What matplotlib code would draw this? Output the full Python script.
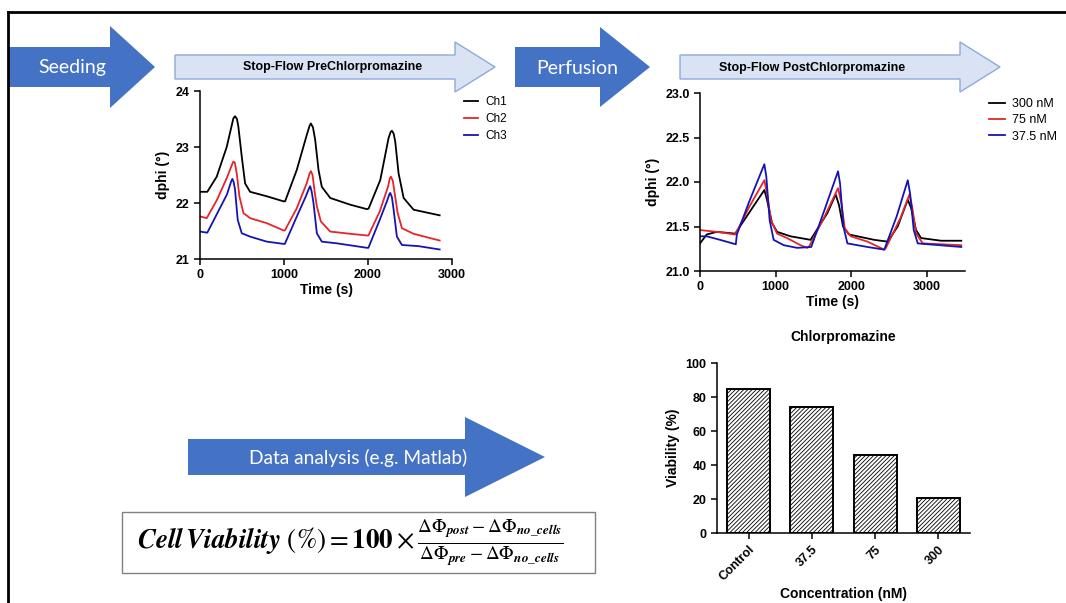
import matplotlib
matplotlib.use('Agg')
import matplotlib.pyplot as plt
from matplotlib.patches import Polygon, Rectangle

plt.rcParams['font.family'] = ['Liberation Sans', 'DejaVu Sans']
plt.rcParams['mathtext.fontset'] = 'stix'
plt.rcParams['hatch.linewidth'] = 0.6

# ---- pre chlorpromazine stop-flow (Ch1..Ch3) ----
pre_t1 = [0, 87, 199, 318, 380, 397, 417, 440, 457, 497, 537, 596, 795, 994, 1013, 1152, 1272, 1305, 1320,
          1345, 1371, 1411, 1450, 1550, 1788, 1987, 2007, 2146, 2245, 2270, 2285, 2305, 2324, 2364, 2424,
          2543, 2853]
pre_ch1 = [22.2, 22.2, 22.47, 23.0, 23.4, 23.51, 23.55, 23.5, 23.36, 22.83, 22.35, 22.2, 22.12, 22.03,
           22.03, 22.59, 23.22, 23.38, 23.42, 23.35, 23.13, 22.59, 22.29, 22.09, 21.97, 21.89, 21.9, 22.41,
           23.16, 23.27, 23.29, 23.24, 23.1, 22.53, 22.09, 21.88, 21.78]
pre_t2 = [0, 80, 200, 320, 380, 397, 415, 440, 469, 517, 596, 795, 994, 1010, 1150, 1270, 1305, 1320, 1340,
          1365, 1391, 1439, 1550, 1788, 1987, 2005, 2140, 2240, 2260, 2273, 2295, 2320, 2353, 2404, 2543,
          2853]
pre_ch2 = [21.76, 21.73, 22.05, 22.45, 22.68, 22.74, 22.72, 22.5, 22.12, 21.82, 21.73, 21.64, 21.51, 21.51,
           21.9, 22.35, 22.53, 22.57, 22.5, 22.2, 21.94, 21.67, 21.49, 21.45, 21.42, 21.42, 21.85, 22.3,
           22.44, 22.47, 22.4, 22.15, 21.82, 21.55, 21.45, 21.33]
pre_t3 = [0, 87, 200, 320, 370, 385, 400, 417, 449, 497, 596, 795, 994, 1010, 1150, 1260, 1300, 1312, 1330,
          1351, 1391, 1450, 1629, 1987, 2005, 2140, 2230, 2255, 2265, 2285, 2305, 2344, 2404, 2600, 2853]
pre_ch3 = [21.49, 21.47, 21.8, 22.15, 22.38, 22.43, 22.38, 22.24, 21.7, 21.46, 21.4, 21.31, 21.27, 21.27,
           21.75, 22.12, 22.27, 22.3, 22.2, 22.0, 21.46, 21.31, 21.28, 21.2, 21.2, 21.7, 22.05, 22.16, 22.18,
           22.1, 21.88, 21.4, 21.25, 21.23, 21.17]

# ---- post chlorpromazine stop-flow ----
post_t300 = [0, 88, 221, 465, 708, 850, 885, 951, 1018, 1195, 1460, 1682, 1792, 1836, 1889, 1969, 2301,
             2478, 2611, 2744, 2788, 2854, 2920, 3186, 3451]
post_300 = [21.31, 21.41, 21.44, 21.42, 21.73, 21.91, 21.8, 21.54, 21.44, 21.39, 21.35, 21.65, 21.86,
            21.74, 21.5, 21.41, 21.35, 21.33, 21.5, 21.8, 21.71, 21.46, 21.37, 21.34, 21.34]
post_t75 = [0, 221, 465, 650, 850, 885, 938, 1018, 1150, 1327, 1416, 1438, 1650, 1823, 1868, 1912, 1991,
            2212, 2434, 2456, 2650, 2766, 2801, 2854, 2943, 3451]
post_75 = [21.46, 21.44, 21.41, 21.72, 22.02, 21.87, 21.57, 21.42, 21.37, 21.29, 21.26, 21.27, 21.62,
           21.93, 21.76, 21.48, 21.39, 21.33, 21.24, 21.26, 21.6, 21.86, 21.73, 21.42, 21.31, 21.29]
post_t37 = [0, 88, 265, 473, 487, 650, 850, 876, 920, 973, 1106, 1283, 1469, 1650, 1823, 1850, 1894,
            1947, 2212, 2434, 2600, 2744, 2775, 2823, 2876, 3451]
post_37 = [21.39, 21.39, 21.35, 21.3, 21.41, 21.78, 22.2, 22.06, 21.57, 21.35, 21.29, 21.26, 21.27, 21.7,
           22.12, 21.98, 21.5, 21.31, 21.27, 21.24, 21.62, 22.02, 21.87, 21.46, 21.31, 21.27]

# ---- viability bars ----
conc = ['Control', '37.5', '75', '300']
viability = [85, 74, 46, 20.5]

BLUE = '#4472C4'
LIGHT = '#DAE3F3'
LEDGE = '#8EA9DB'
RED = '#E3262A'
DBLUE = '#1414B4'

W, H = 1066, 603
fig = plt.figure(figsize=(W / 100, H / 100), dpi=100)


def rect(x0, y0, x1, y1):
    return [x0 / W, 1 - y1 / H, (x1 - x0) / W, (y1 - y0) / H]


# overlay for arrows, box and border
bg = fig.add_axes([0, 0, 1, 1])
bg.set_xlim(0, W)
bg.set_ylim(H, 0)
bg.axis('off')


def arrow(x0, xb, xt, yc, bh, hh, fc, ec, lw=0):
    pts = [(x0, yc - bh), (xb, yc - bh), (xb, yc - hh), (xt, yc), (xb, yc + hh), (xb, yc + bh), (x0, yc + bh)]
    bg.add_patch(Polygon(pts, closed=True, fc=fc, ec=ec, lw=lw))


arrow(8, 110, 155, 67, 20, 41, BLUE, BLUE)
arrow(515, 600, 650, 67, 20, 40, BLUE, BLUE)
arrow(188, 465, 545, 457, 18, 40, BLUE, BLUE)
arrow(175, 455, 495, 67, 12, 25, LIGHT, LEDGE, 1)
arrow(680, 960, 1000, 67, 12, 25, LIGHT, LEDGE, 1)

bg.text(72, 67, 'Seeding', color='white', fontsize=14, family='Lato', ha='center', va='center')
bg.text(577, 68, 'Perfusion', color='white', fontsize=14, family='Lato', ha='center', va='center')
bg.text(358, 458, 'Data analysis (e.g. Matlab)', color='white', fontsize=13.8, family='Lato',
        ha='center', va='center')
bg.text(333, 67, 'Stop-Flow PreChlorpromazine', fontsize=9, weight='bold', ha='center', va='center')
bg.text(812, 68, 'Stop-Flow PostChlorpromazine', fontsize=9, weight='bold', ha='center', va='center')

bg.add_patch(Rectangle((122, 512), 473, 61, fc='white', ec='#808080', lw=1))
bg.text(350, 543, r'$\boldsymbol{Cell\,Viability}\ (\%) = \mathbf{100} \times '
        r'\frac{\Delta\Phi_{\boldsymbol{post}} - \Delta\Phi_{\boldsymbol{no\_cells}}}'
        r'{\Delta\Phi_{\boldsymbol{pre}} - \Delta\Phi_{\boldsymbol{no\_cells}}}$',
        fontsize=19.5, ha='center', va='center')

bg.plot([8, W], [12, 12], color='black', lw=2)
bg.plot([8, 8], [12, H], color='black', lw=2)


def style(ax):
    for s in ['top', 'right']:
        ax.spines[s].set_visible(False)
    for s in ['left', 'bottom']:
        ax.spines[s].set_linewidth(1.1)
    ax.tick_params(width=1.1, length=4, labelsize=9)
    for lab in ax.get_xticklabels() + ax.get_yticklabels():
        lab.set_fontweight('bold')
    ax.patch.set_alpha(0)


# pre plot
ax1 = fig.add_axes(rect(200, 91, 452, 259))
ax1.plot(pre_t1, pre_ch1, color='black', lw=1.3, label='Ch1')
ax1.plot(pre_t2, pre_ch2, color=RED, lw=1.3, label='Ch2')
ax1.plot(pre_t3, pre_ch3, color=DBLUE, lw=1.3, label='Ch3')
ax1.set_xlim(0, 3000)
ax1.set_ylim(21, 24)
ax1.set_xticks([0, 1000, 2000, 3000])
ax1.set_yticks([21, 22, 23, 24])
ax1.set_xlabel('Time (s)', fontsize=10, weight='bold', labelpad=1)
ax1.set_ylabel('dphi (°)', fontsize=10, weight='bold', labelpad=4)
style(ax1)
ax1.legend(loc='upper left', bbox_to_anchor=(1.03, 1.0), frameon=False, fontsize=8.5,
           handlelength=1.2, handletextpad=0.6, labelspacing=0.45, borderaxespad=0)

# post plot
ax2 = fig.add_axes(rect(700, 93, 965, 271))
ax2.plot(post_t300, post_300, color='black', lw=1.3, label='300 nM')
ax2.plot(post_t75, post_75, color=RED, lw=1.3, label='75 nM')
ax2.plot(post_t37, post_37, color=DBLUE, lw=1.3, label='37.5 nM')
ax2.set_xlim(0, 3500)
ax2.set_ylim(21, 23)
ax2.set_xticks([0, 1000, 2000, 3000])
ax2.set_yticks([21.0, 21.5, 22.0, 22.5, 23.0])
ax2.set_yticklabels(['%.1f' % v for v in [21.0, 21.5, 22.0, 22.5, 23.0]])
ax2.set_xlabel('Time (s)', fontsize=10, weight='bold', labelpad=1)
ax2.set_ylabel('dphi (°)', fontsize=10, weight='bold', labelpad=4)
style(ax2)
ax2.legend(loc='upper left', bbox_to_anchor=(1.07, 1.0), frameon=False, fontsize=9,
           handlelength=1.3, handletextpad=0.6, labelspacing=0.35, borderaxespad=0)

# bar plot
ax3 = fig.add_axes(rect(717, 363, 970, 533))
ax3.bar(range(len(conc)), viability, width=0.68, color='white', edgecolor='black', lw=1.4,
        hatch='////////')
ax3.set_xlim(-0.5, 3.5)
ax3.set_ylim(0, 100)
ax3.set_yticks([0, 20, 40, 60, 80, 100])
ax3.set_xticks(range(len(conc)))
ax3.set_xticklabels(conc, rotation=45, ha='right', rotation_mode='anchor')
ax3.set_title('Chlorpromazine', fontsize=10, weight='bold', pad=16)
ax3.set_xlabel('Concentration (nM)', fontsize=10, weight='bold')
ax3.xaxis.set_label_coords(0.5, -0.315)
ax3.set_ylabel('Viability (%)', fontsize=10, weight='bold', labelpad=4)
style(ax3)

fig.savefig('out.png', dpi=100)
